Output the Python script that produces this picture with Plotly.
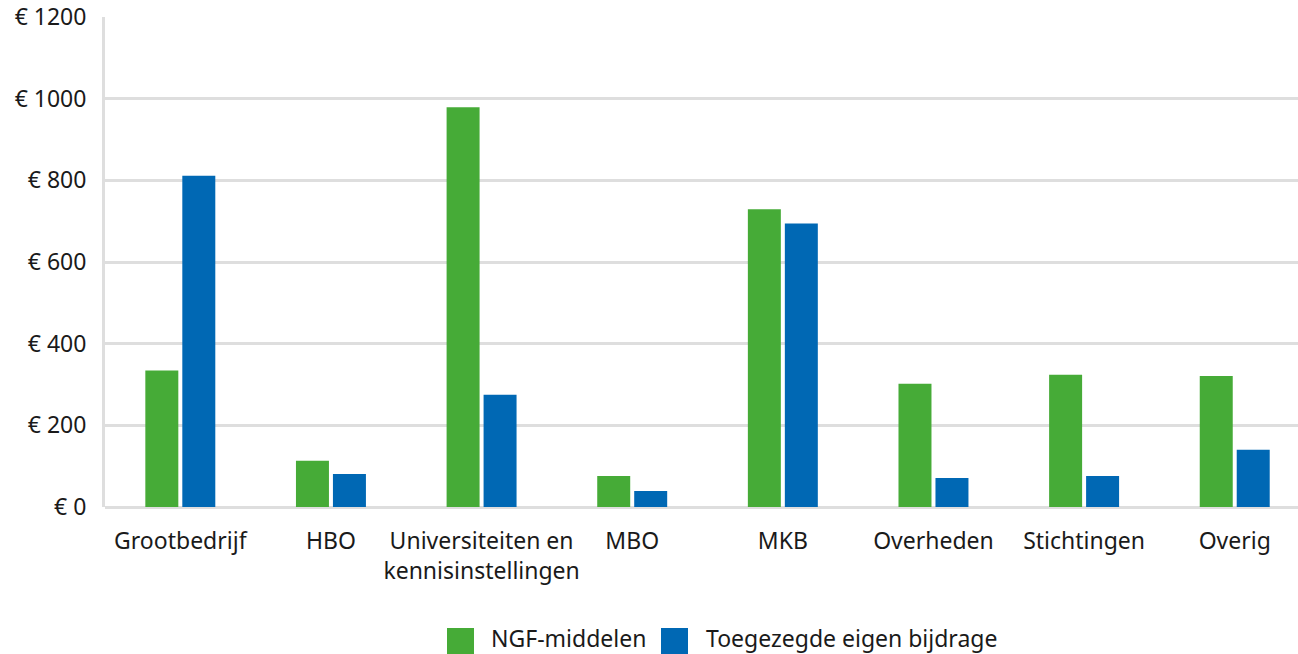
import plotly.graph_objects as go

# data (x € 1 mln)
categories = ["Grootbedrijf", "HBO", "Universiteiten en<br>kennisinstellingen", "MBO",
              "MKB", "Overheden", "Stichtingen", "Overig"]
ngf_middelen = [334, 113, 979, 76, 729, 302, 324, 321]
eigen_bijdrage = [811, 81, 275, 39, 694, 71, 76, 140]
series_names = ["NGF-middelen", "Toegezegde eigen bijdrage"]
colors = ["#46AB37", "#0068B4"]
y_ticks = [0, 200, 400, 600, 800, 1000, 1200]

W, H = 1298, 654
L, R, T, B = 105, 0, 17, 147
font = "Noto Sans"
fsize = 23

fig = go.Figure()
for name, vals, col in zip(series_names, [ngf_middelen, eigen_bijdrage], colors):
    fig.add_trace(go.Bar(x=categories, y=vals, name=name, marker_color=col,
                         marker_line_width=0, showlegend=False))

fig.update_layout(
    width=W, height=H,
    margin=dict(l=L, r=R, t=T, b=B, pad=0),
    plot_bgcolor="white", paper_bgcolor="white",
    barmode="group", bargap=0.509, bargroupgap=0.108,
    font=dict(family=font, size=fsize, color="#1a1a1a"),
)
fig.update_xaxes(range=[-0.5, 7.42], showgrid=False, ticks="", showline=False,
                 ticklabelstandoff=18)
fig.update_yaxes(range=[0, 1200], tickvals=y_ticks,
                 ticktext=["€ " + str(v) for v in y_ticks],
                 showgrid=True, gridcolor="#dedede", gridwidth=2.5,
                 zeroline=True, zerolinecolor="#dedede", zerolinewidth=3,
                 showline=True, linecolor="#dedede", linewidth=3,
                 ticks="outside", ticklen=11, tickcolor="rgba(0,0,0,0)")

# manual legend with large square swatches
plot_w, plot_h = W - L - R, H - T - B
def px(x):
    return (x - L) / plot_w
def py(y):
    return (H - B - y) / plot_h

legend_items = [(447, 489), (661, 704)]
for (sx, tx), name, col in zip(legend_items, series_names, colors):
    fig.add_shape(type="rect", xref="paper", yref="paper",
                  x0=px(sx), x1=px(sx + 27), y0=py(628), y1=py(655),
                  fillcolor=col, line_width=0)
    fig.add_annotation(xref="paper", yref="paper", x=px(tx), y=py(638),
                       xanchor="left", yanchor="middle", text=name,
                       showarrow=False, font=dict(family=font, size=fsize, color="#1a1a1a"))

fig.write_html("out.html", post_script="document.body.style.margin='0';",
               config={"displayModeBar": False})
